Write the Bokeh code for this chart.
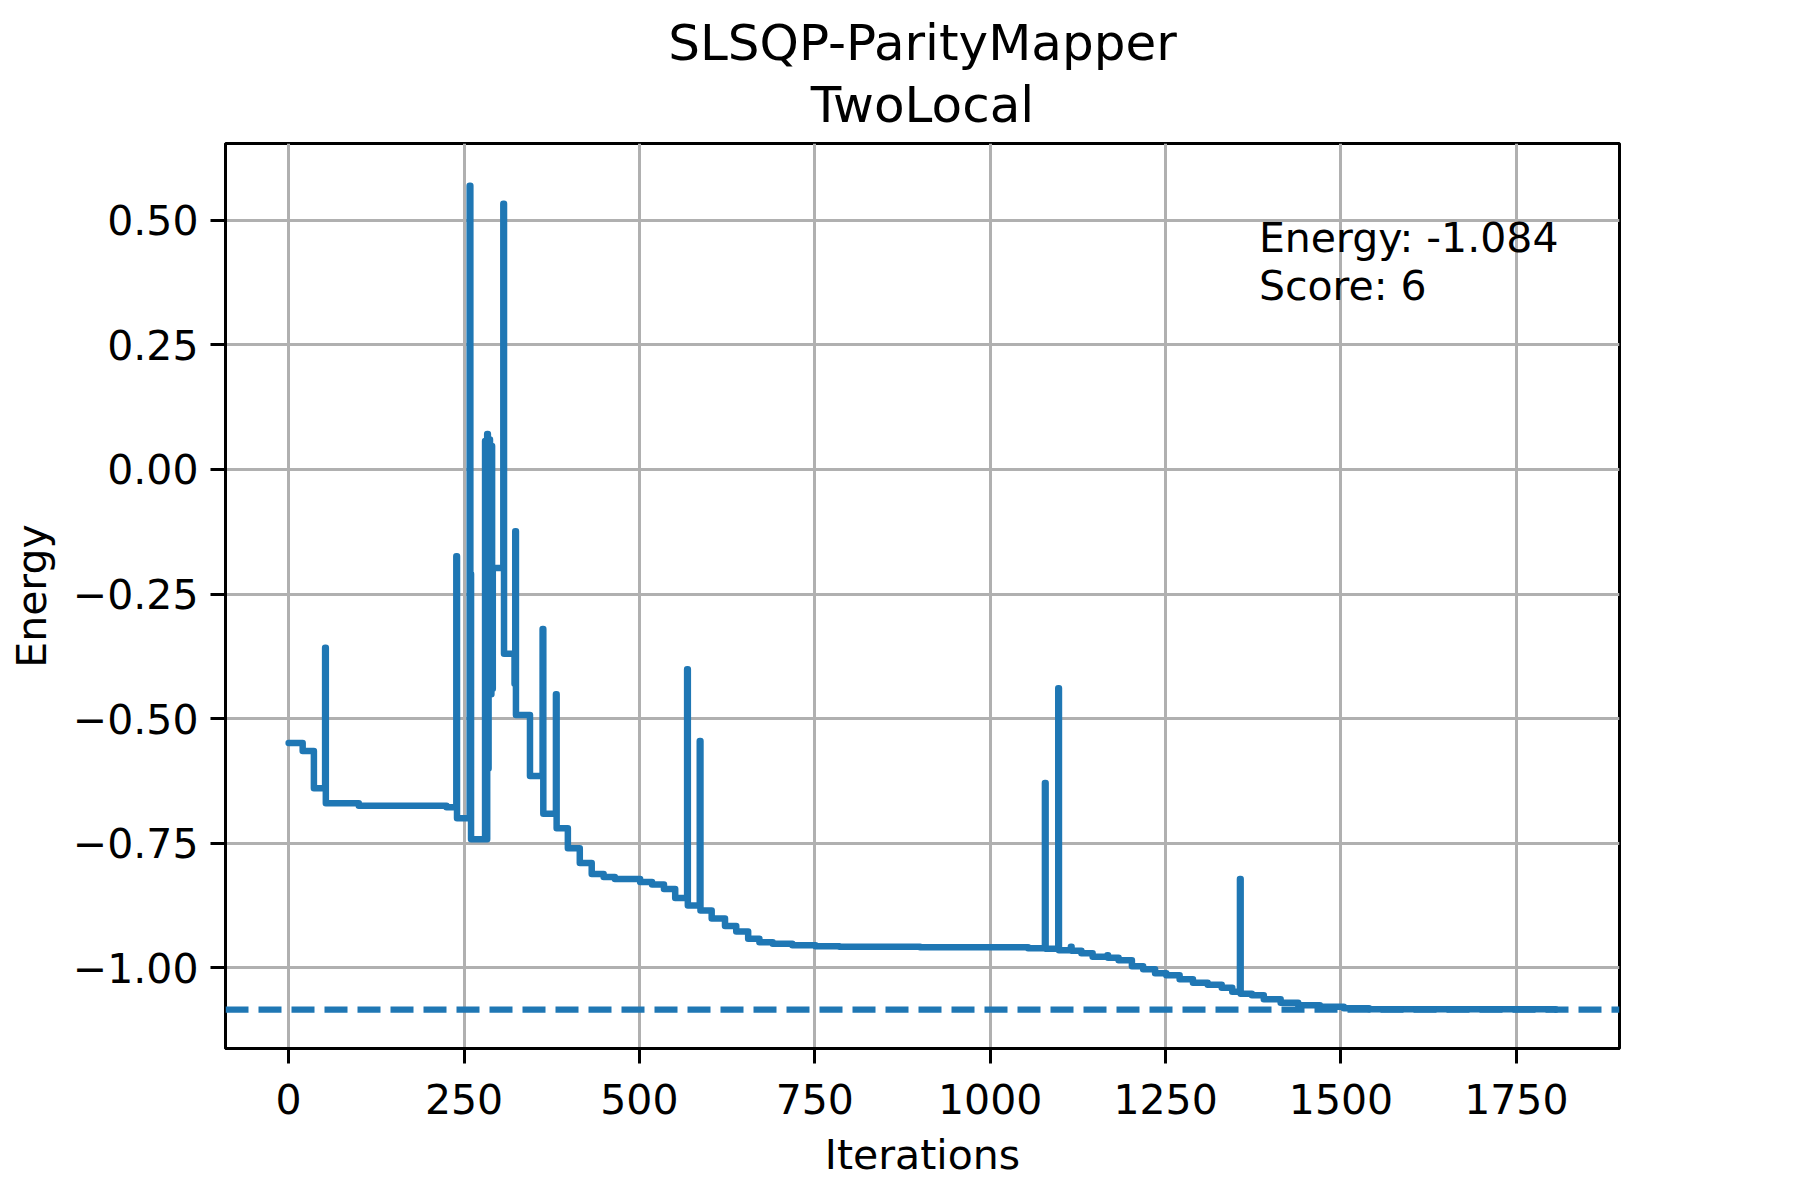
from bokeh.plotting import figure
from bokeh.models import ColumnDataSource, Span, Label, Title, FixedTicker, Range1d
from bokeh.embed import file_html
from bokeh.resources import INLINE

# change points of the energy trace (iteration where the value changes, new value)
iterations = [0, 20, 36, 52, 53, 100, 225, 239, 240,
              258, 259, 260, 280, 281, 283, 284, 285, 287, 289, 290, 291,
              306, 307, 322, 323, 324, 344, 362, 363, 381, 382,
              398, 415, 432, 449, 465, 501, 518, 535, 551, 568, 569, 586, 587,
              603, 622, 638, 655, 671, 690, 718, 751, 785, 900,
              1054, 1078, 1079, 1097, 1098, 1115, 1116, 1130, 1146, 1167, 1168,
              1183, 1202, 1218, 1235, 1251, 1270, 1289, 1310, 1330, 1345,
              1356, 1357, 1373, 1390, 1414, 1439, 1470, 1504, 1540, 1806]
energy = [-0.549, -0.565, -0.640, -0.358, -0.670, -0.675, -0.678, -0.174, -0.700,
          0.569, -0.210, -0.742, 0.057, -0.742, 0.071, -0.600, 0.060, -0.451, 0.047, -0.440, -0.198,
          0.533, -0.370, -0.430, -0.124, -0.493, -0.615, -0.320, -0.691, -0.451, -0.720,
          -0.760, -0.790, -0.812, -0.818, -0.822, -0.828, -0.833, -0.842, -0.860, -0.401, -0.875, -0.545, -0.885,
          -0.901, -0.916, -0.927, -0.942, -0.949, -0.952, -0.955, -0.957, -0.958, -0.959,
          -0.961, -0.629, -0.962, -0.439, -0.965, -0.958, -0.966, -0.971, -0.978, -0.975, -0.980,
          -0.985, -0.997, -1.003, -1.011, -1.015, -1.023, -1.030, -1.034, -1.040, -1.048,
          -0.822, -1.052, -1.055, -1.063, -1.070, -1.075, -1.078, -1.081, -1.083, -1.084]

exact_energy = -1.0842
energy_text = "Energy: -1.084"
score_text = "Score: 6"

x_ticks = [0, 250, 500, 750, 1000, 1250, 1500, 1750]
y_ticks = [-1.0, -0.75, -0.5, -0.25, 0.0, 0.25, 0.5]
y_tick_labels = ["\u22121.00", "\u22120.75", "\u22120.50", "\u22120.25", "0.00", "0.25", "0.50"]

FONT = "DejaVu Sans"
BLUE = "#1f77b4"

p = figure(width=1784, height=1184,
           x_range=Range1d(-90, 1897), y_range=Range1d(-1.162, 0.654),
           output_backend="svg", toolbar_location=None,
           min_border_left=225, min_border_right=165,
           min_border_top=143, min_border_bottom=136)

# title: first line on top, second closer to the frame
p.title.text = "SLSQP-ParityMapper"
p.title.align = "center"
p.title.text_font = FONT
p.title.text_font_size = "50px"
p.title.text_font_style = "normal"
p.title.text_color = "black"
p.title.standoff = -14
p.add_layout(Title(text="TwoLocal", align="center", text_font=FONT, text_color="black",
                   text_font_size="50px", text_font_style="normal", standoff=19), "above")

p.outline_line_color = "black"
p.outline_line_width = 3
p.outline_line_alpha = 1

src = ColumnDataSource(data=dict(x=iterations, y=energy))
p.step("x", "y", source=src, mode="after", line_color=BLUE, line_width=6.5,
       line_join="round", line_cap="round")

p.add_layout(Span(location=exact_energy, dimension="width", line_color=BLUE,
                  line_width=6.25, line_dash="23 10"))

p.add_layout(Label(x=1383, y=0.464, text=energy_text, text_font=FONT, text_color="black",
                   text_font_size="41px", text_baseline="alphabetic"))
p.add_layout(Label(x=1383, y=0.369, text=score_text, text_font=FONT, text_color="black",
                   text_font_size="41px", text_baseline="alphabetic"))

p.xaxis.ticker = FixedTicker(ticks=x_ticks, minor_ticks=[])
p.yaxis.ticker = FixedTicker(ticks=y_ticks, minor_ticks=[])
p.yaxis.major_label_overrides = dict(zip(y_ticks, y_tick_labels))
p.xaxis.axis_label = "Iterations"
p.yaxis.axis_label = "Energy"

for ax in (p.xaxis, p.yaxis):
    ax.axis_line_color = "black"
    ax.axis_line_width = 3
    ax.major_tick_line_width = 3
    ax.major_tick_line_color = "black"
    ax.major_tick_out = 15
    ax.major_tick_in = 0
    ax.major_label_text_font = FONT
    ax.major_label_text_font_size = "41px"
    ax.major_label_text_color = "black"
    ax.axis_label_text_font = FONT
    ax.axis_label_text_font_size = "41px"
    ax.axis_label_text_font_style = "normal"
    ax.axis_label_text_color = "black"
    ax.axis_label_standoff = 14

p.xaxis.major_label_standoff = 20
p.yaxis.major_label_standoff = 12

p.grid.grid_line_color = "#b0b0b0"
p.grid.grid_line_width = 3

open("out.html", "w").write(file_html(p, INLINE))
